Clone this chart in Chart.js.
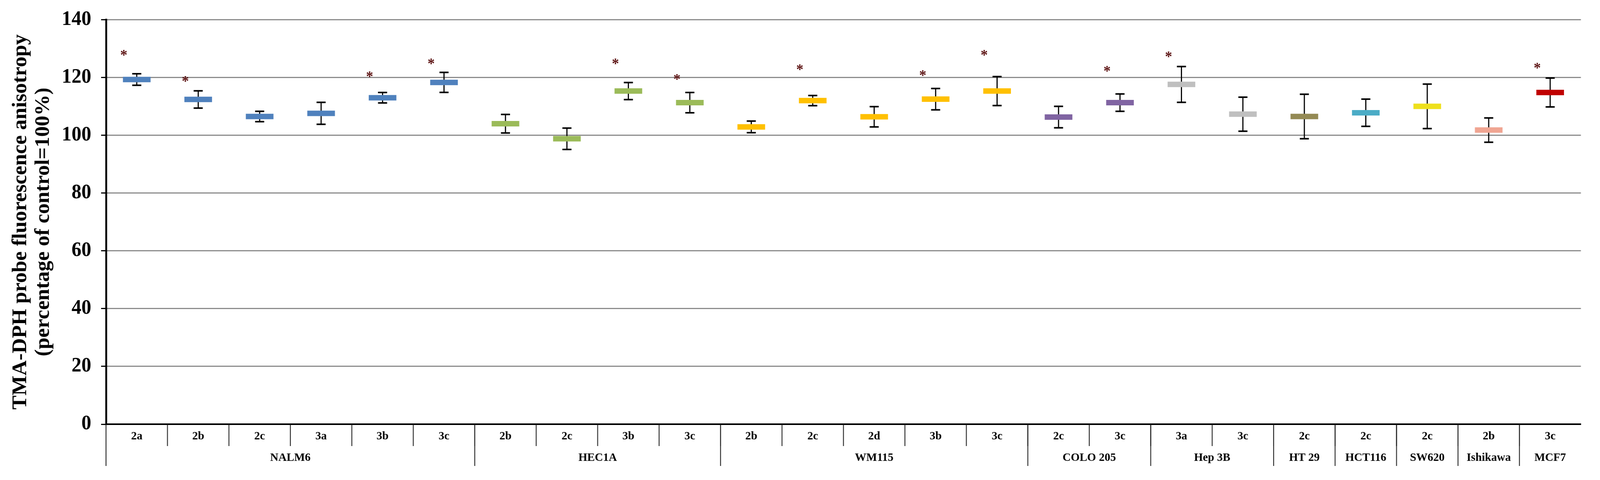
<!DOCTYPE html>
<html>
<head>
<meta charset="utf-8">
<script src="https://cdn.jsdelivr.net/npm/chart.js@4.4.1/dist/chart.umd.min.js"></script>
<style>
  html, body { margin: 0; background: #fff; overflow: hidden; }
  #chart { display: block; }
</style>
</head>
<body>
<!-- the drawing keeps its 4226x1230 layout and is fitted to the window width -->
<canvas id="chart" width="4226" height="1230" style="width:100vw;height:1230px"></canvas>
<script>
// cell lines (groups) and how many compounds each one has
const groups = ["NALM6", "HEC1A", "WM115", "COLO 205", "Hep 3B", "HT 29", "HCT116", "SW620", "Ishikawa", "MCF7"];
const groupSizes = [6, 4, 5, 2, 2, 1, 1, 1, 1, 1];
const groupColors = ["#4F81BD", "#9BBB59", "#FFC000", "#8064A2", "#BFBFBF", "#948A54", "#4BACC6", "#EEE01C", "#F0A592", "#C00000"];

// compounds along the x axis
const compounds = ["2a", "2b", "2c", "3a", "3b", "3c",
  "2b", "2c", "3b", "3c",
  "2b", "2c", "2d", "3b", "3c",
  "2c", "3c",
  "3a", "3c",
  "2c", "2c", "2c", "2b", "3c"];

// anisotropy, % of control, and the error bar half-length
const means = [119.3, 112.4, 106.5, 107.6, 113.0, 118.3,
  104.0, 98.8, 115.3, 111.3,
  102.9, 112.0, 106.4, 112.5, 115.3,
  106.3, 111.3,
  117.6, 107.3,
  106.5, 107.8, 110.0, 101.8, 114.8];
const errors = [2.0, 3.0, 1.8, 3.8, 1.8, 3.45,
  3.2, 3.7, 2.95, 3.5,
  2.0, 1.75, 3.5, 3.7, 5.0,
  3.7, 3.0,
  6.2, 5.9,
  7.7, 4.7, 7.7, 4.2, 5.0];

// significance marks: which compound, and at what level
const starIndex = [0, 1, 4, 5, 8, 9, 11, 13, 14, 16, 17, 23];
const starLevel = [128.6, 119.6, 121.2, 125.6, 125.6, 120.2, 123.6, 121.6, 128.6, 123.1, 128.1, 124.1];

const yTicks = [0, 20, 40, 60, 80, 100, 120, 140];
const yTitle = ["TMA-DPH probe fluorescence anisotropy", "(percentage of control=100%)"];

const SERIF = "'Liberation Serif', 'Times New Roman', serif";

// one colour per compound, taken from its cell line
const pointColors = [];
groups.forEach(function (g, gi) {
  for (let k = 0; k < groupSizes[gi]; k++) pointColors.push(groupColors[gi]);
});

const errorBars = {
  id: "errorBars",
  beforeDatasetsDraw(chart) {
    const ctx = chart.ctx;
    const x = chart.scales.x, y = chart.scales.y;
    ctx.save();
    ctx.strokeStyle = "#000";
    means.forEach(function (m, i) {
      const px = x.getPixelForValue(i);
      const top = y.getPixelForValue(m + errors[i]);
      const bot = y.getPixelForValue(m - errors[i]);
      ctx.lineWidth = 3;
      ctx.beginPath();
      ctx.moveTo(px, top);
      ctx.lineTo(px, bot);
      ctx.stroke();
      ctx.lineWidth = 4;
      ctx.beginPath();
      ctx.moveTo(px - 12, top);
      ctx.lineTo(px + 12, top);
      ctx.moveTo(px - 12, bot);
      ctx.lineTo(px + 12, bot);
      ctx.stroke();
    });
    ctx.restore();
  },
  afterDatasetsDraw(chart) {
    const ctx = chart.ctx;
    const x = chart.scales.x, y = chart.scales.y;
    const w = (x.right - x.left) / compounds.length;
    ctx.save();
    ctx.fillStyle = "#5c1212";
    ctx.font = "bold 38px " + SERIF;
    ctx.textAlign = "center";
    ctx.textBaseline = "alphabetic";
    starIndex.forEach(function (ci, k) {
      const px = x.getPixelForValue(ci) - w * 0.21;
      const py = y.getPixelForValue(starLevel[k]);
      ctx.fillText("*", px, py + 18);
    });
    ctx.restore();
  }
};

const axisLabels = {
  id: "axisLabels",
  afterDraw(chart) {
    const ctx = chart.ctx;
    const area = chart.chartArea;
    const x = chart.scales.x;
    const w = (x.right - x.left) / compounds.length;
    const base = area.bottom;

    ctx.save();
    ctx.fillStyle = "#000";
    ctx.strokeStyle = "#000";

    // y axis title, two rotated lines
    ctx.font = "bold 54px " + SERIF;
    ctx.textAlign = "center";
    ctx.textBaseline = "middle";
    const midY = (area.top + area.bottom) / 2;
    [area.left - 225, area.left - 165].forEach(function (tx, li) {
      ctx.save();
      ctx.translate(tx, midY);
      ctx.rotate(-Math.PI / 2);
      ctx.fillText(yTitle[li], 0, 0);
      ctx.restore();
    });

    // compound labels and short dividers
    ctx.font = "bold 30px " + SERIF;
    compounds.forEach(function (c, i) {
      ctx.fillText(c, x.getPixelForValue(i), base + 31);
    });
    ctx.lineWidth = 2;
    ctx.beginPath();
    for (let i = 0; i < compounds.length; i++) {
      const bx = x.left + i * w;
      ctx.moveTo(bx, base);
      ctx.lineTo(bx, base + 56);
    }
    ctx.stroke();

    // cell line labels and long dividers
    let start = 0;
    ctx.beginPath();
    groups.forEach(function (g, gi) {
      const left = x.left + start * w;
      const right = left + groupSizes[gi] * w;
      ctx.moveTo(left, base);
      ctx.lineTo(left, base + 107);
      ctx.fillText(g, (left + right) / 2, base + 86);
      start += groupSizes[gi];
    });
    ctx.stroke();
    ctx.restore();
  }
};

new Chart(document.getElementById("chart"), {
  type: "line",
  data: {
    labels: compounds,
    datasets: [{
      data: means,
      showLine: false,
      pointStyle: "line",
      pointRadius: 36.5,
      pointBorderWidth: 14,
      pointBorderColor: pointColors,
      pointBackgroundColor: pointColors
    }]
  },
  options: {
    responsive: false,
    animation: false,
    devicePixelRatio: 1,
    events: [],
    layout: { padding: { left: 25, right: 31, top: 43, bottom: 143 } },
    plugins: {
      legend: { display: false },
      tooltip: { enabled: false }
    },
    scales: {
      x: {
        type: "category",
        offset: true,
        grid: { display: false, drawTicks: false },
        ticks: { display: false },
        border: { color: "#000", width: 4 }
      },
      y: {
        min: 0,
        max: 140,
        afterBuildTicks(scale) {
          scale.ticks = yTicks.map(function (v) { return { value: v }; });
        },
        afterFit(scale) {
          scale.width = 255;
          scale.paddingTop = 0;
          scale.paddingBottom = 0;
        },
        ticks: {
          color: "#000",
          padding: 26,
          font: { family: SERIF, size: 52, weight: "bold" }
        },
        grid: {
          color: function (c) { return c.tick && c.tick.value === 0 ? "rgba(0,0,0,0)" : "#8c8c8c"; },
          lineWidth: 3,
          tickColor: "#000",
          tickLength: 13,
          tickWidth: 3
        },
        border: { color: "#000", width: 5 }
      }
    }
  },
  plugins: [errorBars, axisLabels]
});
</script>
</body>
</html>
